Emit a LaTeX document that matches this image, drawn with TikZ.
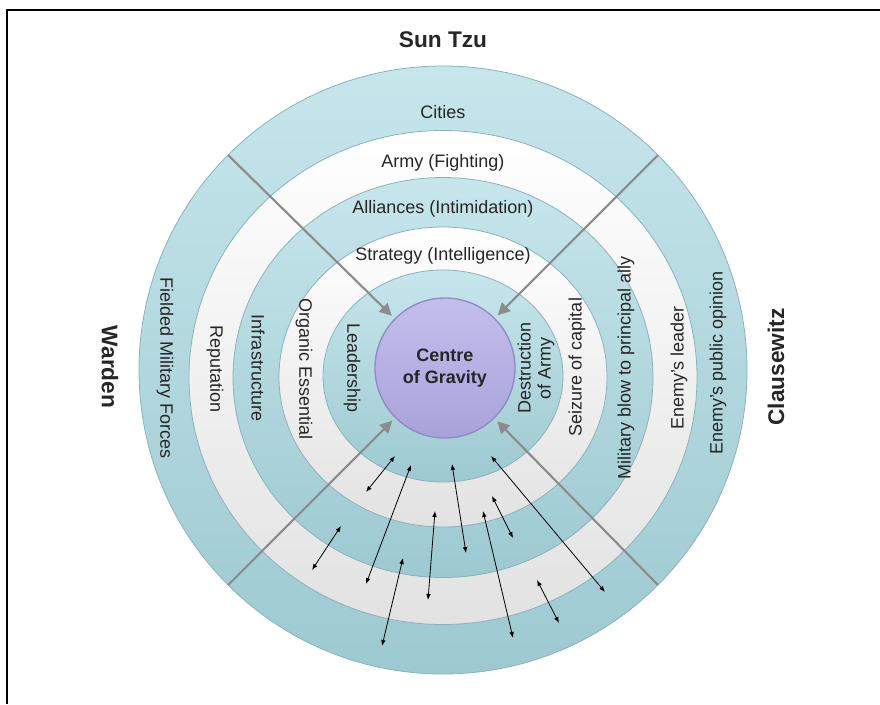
\documentclass[tikz,border=0pt]{standalone}
\usepackage{fontspec}
\setmainfont{Liberation Sans}
\usetikzlibrary{arrows.meta}

\definecolor{blueT}{HTML}{C6E6EC}
\definecolor{blueB}{HTML}{9DC9D0}
\definecolor{greyB}{HTML}{E2E2E2}
\definecolor{edge}{HTML}{8AB3B9}
\definecolor{spoke}{HTML}{8C8C8C}
\definecolor{cogT}{HTML}{C3BFEC}
\definecolor{cogB}{HTML}{A8A2DA}
\definecolor{cogedge}{HTML}{8F89C9}
\definecolor{txt}{HTML}{262626}

\begin{document}
\begin{tikzpicture}[x=0.75pt, y=0.75pt, inner sep=1pt,
      lbl/.style={font=\fontsize{13.5}{15}\selectfont, text=txt, align=center},
      side/.style={text=txt, font=\fontsize{17}{19}\selectfont\bfseries},
      ring/.style={draw=edge, line width=0.6pt},
      blueband/.style={ring, top color=blueT, bottom color=blueB},
      whiteband/.style={ring, top color=white, bottom color=greyB},
      cog/.style={circle, minimum size=105pt, draw=cogedge, line width=1pt,
         top color=cogT, bottom color=cogB, text=txt, align=center,
         font=\fontsize{13.5}{16}\selectfont\bfseries},
      radial/.style={draw=spoke, line width=1.6pt, shorten >=3pt,
         -{Triangle[length=9pt,width=9pt]}},
      link/.style={line width=0.6pt,
         {Latex[length=4.5pt,width=3.5pt]}-{Latex[length=4.5pt,width=3.5pt]}}]
   \useasboundingbox (-443,-334) rectangle (437,370);
   \draw[line width=1.3pt] (-436,-334) -- (-436,360) -- (437,360);

   % rings, outside in
   \path[blueband] (0,0) circle (304);
   \path[whiteband] (0,-7.5) ellipse [x radius=254, y radius=247];
   \path[blueband] (0,-7.5) ellipse [x radius=210, y radius=200];
   \path[whiteband] (0,-7) ellipse [x radius=164, y radius=150];
   \path[blueband] (0,-6) ellipse [x radius=120, y radius=106];

   \node[cog] (cog) at (2,2) {Centre\\of Gravity};

   % spokes into the centre
   \coordinate (nw) at (135:304);
   \coordinate (ne) at (45:304);
   \coordinate (sw) at (225:304);
   \coordinate (se) at (315:304);
   \draw[radial] (nw) -- (cog);
   \draw[radial] (ne) -- (cog);
   \draw[radial] (sw) -- (cog);
   \draw[radial] (se) -- (cog);

   % Sun Tzu
   \node[side] (suntzu) at (0,330) {Sun Tzu};
   \node[lbl] (cities) at (0,258) {Cities};
   \node[lbl] (army) at (0,207) {Army (Fighting)};
   \node[lbl] (alliances) at (0,161) {Alliances (Intimidation)};
   \node[lbl] (strategy) at (0,114) {Strategy (Intelligence)};

   % Warden
   \node[side, rotate=-90] (warden) at (-333,3) {Warden};
   \node[lbl, rotate=-90] (fielded) at (-278,2) {Fielded Military Forces};
   \node[lbl, rotate=-90] (reputation) at (-228,1) {Reputation};
   \node[lbl, rotate=-90] (infra) at (-185,2) {Infrastructure};
   \node[lbl, rotate=-90] (organic) at (-139,1) {Organic Essential};
   \node[lbl, rotate=-90] (leadership) at (-91,2) {Leadership};

   % Clausewitz
   \node[side, rotate=90] (clausewitz) at (333,3) {Clausewitz};
   \node[lbl, rotate=90] (opinion) at (275,7) {Enemy's public opinion};
   \node[lbl, rotate=90] (leader) at (236,2) {Enemy's leader};
   \node[lbl, rotate=90] (ally) at (183,2) {Military blow to principal ally};
   \node[lbl, rotate=90] (capital) at (134,3) {Seizure of capital};
   \node[lbl, rotate=90] (destruction) at (93,2) {Destruction\\of Army};

   % links between the rings
   \coordinate (a1) at (-48,-86);   \coordinate (b1) at (-77,-122);
   \coordinate (a2) at (-32,-95);   \coordinate (b2) at (-77,-214);
   \coordinate (a3) at (9,-94);     \coordinate (b3) at (23,-183);
   \coordinate (a4) at (48,-86);    \coordinate (b4) at (162,-222);
   \coordinate (a5) at (-102,-156); \coordinate (b5) at (-131,-200);
   \coordinate (a6) at (-8,-141);   \coordinate (b6) at (-15,-230);
   \coordinate (a7) at (49,-126);   \coordinate (b7) at (70,-168);
   \coordinate (a8) at (40,-141);   \coordinate (b8) at (70,-268);
   \coordinate (a9) at (-40,-188);  \coordinate (b9) at (-61,-276);
   \coordinate (a10) at (94,-210);  \coordinate (b10) at (116,-253);
   \draw[link] (a1) -- (b1);
   \draw[link] (a2) -- (b2);
   \draw[link] (a3) -- (b3);
   \draw[link] (a4) -- (b4);
   \draw[link] (a5) -- (b5);
   \draw[link] (a6) -- (b6);
   \draw[link] (a7) -- (b7);
   \draw[link] (a8) -- (b8);
   \draw[link] (a9) -- (b9);
   \draw[link] (a10) -- (b10);
\end{tikzpicture}
\end{document}
